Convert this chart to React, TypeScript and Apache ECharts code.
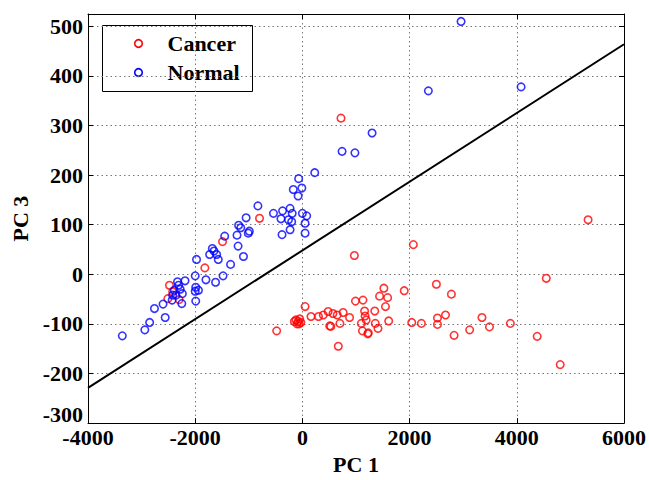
import React, { useEffect, useRef } from "react";
import * as echarts from "echarts";

// PC1, PC3 pairs
const cancerPoints: [number, number][] = [
  [720, 315], [5330, 110], [2070, 60], [970, 38], [4550, -8],
  [1900, -33], [2500, -20], [2780, -40], [2040, -97], [2220, -99],
  [2520, -88], [2520, -101], [2670, -82], [2830, -123], [3120, -112],
  [3350, -87], [3490, -106], [3880, -99], [4380, -125], [4810, -182],
  [1520, -28], [1440, -44], [1590, -47], [1550, -65], [1350, -74],
  [1130, -52], [990, -54], [1160, -74], [1170, -84], [1100, -99],
  [1120, -114], [1220, -120], [1360, -99], [1410, -109], [1610, -94],
  [1190, -92], [1230, -118],
  [880, -87], [760, -77], [700, -99], [530, -105], [650, -82],
  [570, -79], [480, -75], [390, -82], [300, -85], [160, -85],
  [50, -65], [670, -145], [510, -104],
  [-120, -92], [-80, -95], [-50, -90], [-100, -100], [-30, -97],
  [-150, -95], [-60, -100],
  [-480, -114],
  [-800, 113], [-1490, 66], [-1820, 13],
  [-2480, -22], [-2510, -49], [-2300, -51], [-2420, -35],
];

const normalPoints: [number, number][] = [
  [2960, 510], [2350, 370], [4080, 378], [1300, 285], [740, 248],
  [980, 245], [230, 205],
  [-70, 193], [-170, 171], [-10, 174], [-80, 158], [-830, 138],
  [-1050, 114], [-540, 123], [-370, 128], [-230, 133], [-190, 123],
  [-260, 110], [-200, 106], [0, 123], [80, 118], [50, 103],
  [-400, 112], [-230, 90], [-380, 80], [50, 83],
  [-1190, 99], [-1150, 94], [-990, 87], [-1010, 83], [-1220, 79],
  [-1450, 77], [-1200, 57], [-1100, 36], [-1340, 20], [-1480, -3],
  [-1620, -16], [-1800, -11], [-1680, 52], [-1730, 40], [-1600, 40],
  [-1570, 30], [-1650, 47], [-1975, 30], [-2000, -3], [-1990, -26],
  [-1940, -32], [-2000, -34], [-1990, -54],
  [-2190, -13], [-2240, -39], [-2310, -22], [-2390, -32], [-2360, -42],
  [-2420, -42], [-2250, -59], [-2430, -52], [-2600, -60], [-2760, -69],
  [-2560, -87], [-2850, -97], [-2940, -112], [-3360, -124], [-2330, -15],
  [-2280, -30],
];

const boundaryLine: [number, number][] = [
  [-4000, -229],
  [6000, 464],
];

const xTicks = { min: -4000, max: 6000, interval: 2000 };
const yTicks = { min: -300, max: 525, interval: 100 };

const seriesNames = ["Cancer", "Normal"];

const FONT = "'Liberation Serif', 'Times New Roman', serif";

export default function App() {
  const ref = useRef<HTMLDivElement>(null);

  useEffect(() => {
    if (!ref.current) return;
    const chart = echarts.init(ref.current, undefined, { renderer: "svg" });

    const labelStyle = {
      fontFamily: FONT,
      fontWeight: "bold" as const,
      fontSize: 22,
      color: "#000",
    };
    const splitLine = {
      show: true,
      lineStyle: { color: "#777", type: [1.5, 3] as any, width: 1 },
    };
    const axisLine = { show: true, onZero: false, lineStyle: { color: "#000", width: 1 } };
    const axisTick = { show: true, inside: true, length: 5, lineStyle: { color: "#000" } };

    chart.setOption({
      animation: false,
      backgroundColor: "#fff",
      grid: { left: 88, right: 23, top: 14, bottom: 52 },
      xAxis: [
        {
          type: "value",
          min: xTicks.min,
          max: xTicks.max,
          interval: xTicks.interval,
          axisLine,
          axisTick,
          splitLine,
          axisLabel: {
            ...labelStyle,
            lineHeight: 18,
            margin: 5,
            formatter: (v: number) => String(v),
          },
          name: "PC 1",
          nameLocation: "middle",
          nameGap: 25,
          nameTextStyle: { ...labelStyle },
        },
        {
          type: "value",
          position: "top",
          min: xTicks.min,
          max: xTicks.max,
          interval: xTicks.interval,
          axisLine,
          axisTick,
          splitLine: { show: false },
          axisLabel: { show: false },
        },
      ],
      yAxis: [
        {
          type: "value",
          min: yTicks.min,
          max: yTicks.max,
          interval: yTicks.interval,
          axisLine,
          axisTick,
          splitLine,
          axisLabel: {
            ...labelStyle,
            lineHeight: 18,
            margin: 5,
            verticalAlignMinLabel: "bottom",
            formatter: (v: number) => (v % 100 === 0 ? String(v) : ""),
          },
          name: "PC 3",
          nameLocation: "middle",
          nameGap: 55,
          nameTextStyle: { ...labelStyle },
        },
        {
          type: "value",
          position: "right",
          min: yTicks.min,
          max: yTicks.max,
          interval: yTicks.interval,
          axisLine,
          axisTick,
          splitLine: { show: false },
          axisLabel: { show: false },
        },
      ],
      series: [
        {
          name: seriesNames[0],
          type: "scatter",
          data: cancerPoints,
          symbol: "circle",
          symbolSize: 7.5,
          itemStyle: { color: "rgba(0,0,0,0)", borderColor: "#ff0000", borderWidth: 1.6 },
          z: 3,
        },
        {
          name: seriesNames[1],
          type: "scatter",
          data: normalPoints,
          symbol: "circle",
          symbolSize: 7.5,
          itemStyle: { color: "rgba(0,0,0,0)", borderColor: "#0000ff", borderWidth: 1.6 },
          z: 4,
        },
        {
          name: "boundary",
          type: "line",
          data: boundaryLine,
          symbol: "none",
          lineStyle: { color: "#000", width: 2 },
          z: 5,
        },
      ],
      graphic: [
        {
          type: "group",
          left: 102,
          top: 25,
          z: 100,
          children: [
            {
              type: "rect",
              shape: { x: 0, y: 0, width: 150, height: 66 },
              style: { fill: "#fff", stroke: "#000", lineWidth: 1 },
            },
            {
              type: "circle",
              shape: { cx: 36, cy: 18, r: 3.8 },
              style: { fill: "none", stroke: "#ff0000", lineWidth: 1.6 },
            },
            {
              type: "text",
              x: 65,
              y: 18,
              style: {
                text: seriesNames[0],
                fontFamily: FONT,
                fontWeight: "bold",
                fontSize: 22,
                fill: "#000",
                verticalAlign: "middle",
              },
            },
            {
              type: "circle",
              shape: { cx: 36, cy: 47, r: 3.8 },
              style: { fill: "none", stroke: "#0000ff", lineWidth: 1.6 },
            },
            {
              type: "text",
              x: 65,
              y: 47,
              style: {
                text: seriesNames[1],
                fontFamily: FONT,
                fontWeight: "bold",
                fontSize: 22,
                fill: "#000",
                verticalAlign: "middle",
              },
            },
          ],
        },
      ],
    });

    return () => chart.dispose();
  }, []);

  return <div ref={ref} style={{ width: 649, height: 480, position: "absolute", left: 0, top: 0 }} />;
}
